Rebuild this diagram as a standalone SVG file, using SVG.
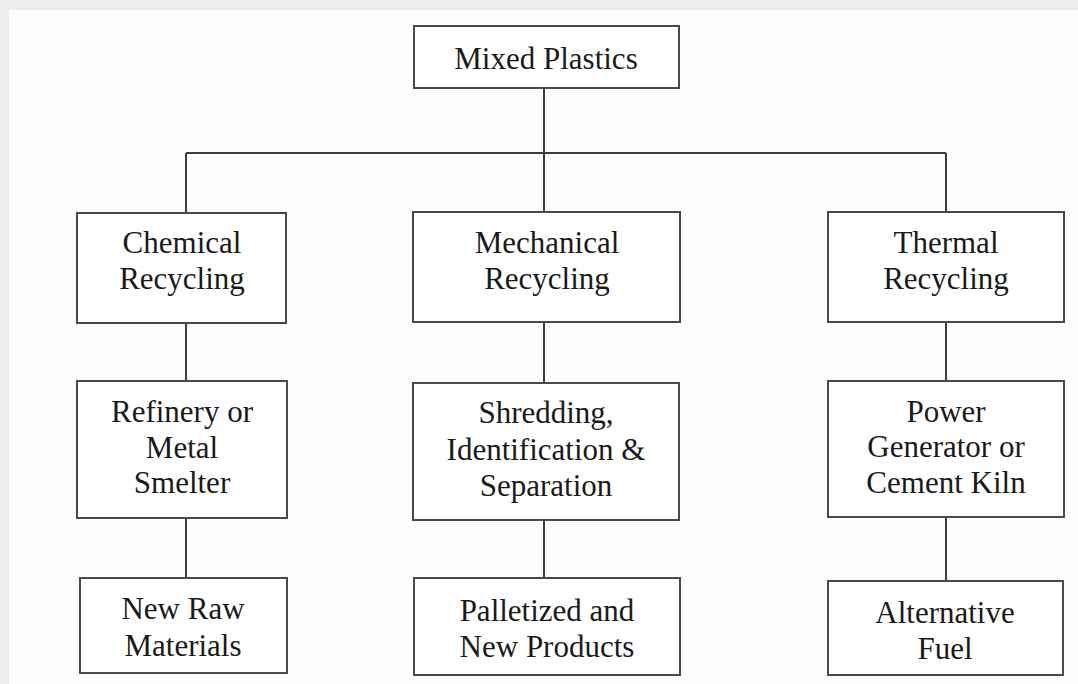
<svg xmlns="http://www.w3.org/2000/svg" width="1078" height="684" viewBox="0 0 1078 684">
<style>
.box{fill:#ffffff;stroke:#4a4a4a;stroke-width:2}
.lbl{font-family:"Liberation Serif","Times New Roman",serif;font-size:31px;fill:#1a1a1a;text-anchor:middle}
.conn{stroke:#3c3c3c;stroke-width:2;fill:none}
</style>
<rect x="0" y="0" width="1078" height="684" fill="#ededed"/>
<rect x="9" y="10" width="1069" height="674" fill="#fdfdfc"/>
<g id="connectors">
<path class="conn" d="M544 88V153M186 153H946M186 153V213M544 153V212M946 153V212"/>
<path class="conn" d="M186 323V381M186 518V578"/>
<path class="conn" d="M544 322V383M544 520V578"/>
<path class="conn" d="M946 322V381M946 517V581"/>
</g>
<g id="mixed"><rect class="box" x="414" y="26" width="265" height="62"/><text class="lbl" x="546" y="69">Mixed Plastics</text></g>
<g id="chemical"><rect class="box" x="77" y="213" width="209" height="110"/><text class="lbl" x="182" y="253">Chemical</text><text class="lbl" x="182" y="289">Recycling</text></g>
<g id="mechanical"><rect class="box" x="413" y="212" width="267" height="110"/><text class="lbl" x="547" y="253">Mechanical</text><text class="lbl" x="547" y="289">Recycling</text></g>
<g id="thermal"><rect class="box" x="828" y="212" width="236" height="110"/><text class="lbl" x="946" y="253">Thermal</text><text class="lbl" x="946" y="289">Recycling</text></g>
<g id="refinery"><rect class="box" x="77" y="381" width="210" height="137"/><text class="lbl" x="182" y="422">Refinery or</text><text class="lbl" x="182" y="458">Metal</text><text class="lbl" x="182" y="493">Smelter</text></g>
<g id="shredding"><rect class="box" x="413" y="383" width="266" height="137"/><text class="lbl" x="546" y="423">Shredding,</text><text class="lbl" x="546" y="460">Identification &amp;</text><text class="lbl" x="546" y="496">Separation</text></g>
<g id="power"><rect class="box" x="828" y="381" width="236" height="136"/><text class="lbl" x="946" y="422">Power</text><text class="lbl" x="946" y="457">Generator or</text><text class="lbl" x="946" y="493">Cement Kiln</text></g>
<g id="newraw"><rect class="box" x="80" y="578" width="207" height="95"/><text class="lbl" x="183" y="619">New Raw</text><text class="lbl" x="183" y="656">Materials</text></g>
<g id="palletized"><rect class="box" x="414" y="578" width="266" height="97"/><text class="lbl" x="547" y="621">Palletized and</text><text class="lbl" x="547" y="657">New Products</text></g>
<g id="altfuel"><rect class="box" x="828" y="581" width="235" height="94"/><text class="lbl" x="945" y="623">Alternative</text><text class="lbl" x="945" y="659">Fuel</text></g>
</svg>
